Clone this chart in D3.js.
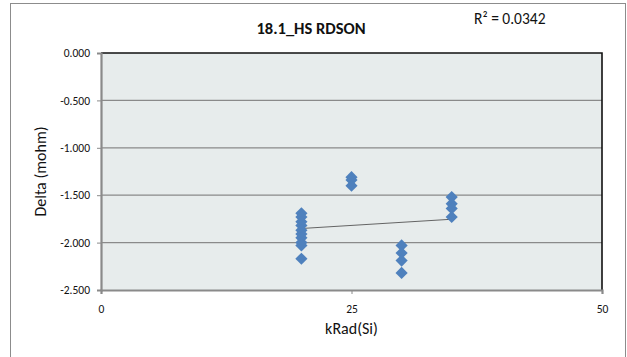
<!DOCTYPE html>
<html>
<head>
<meta charset="utf-8">
<script src="https://cdn.jsdelivr.net/npm/d3@7"></script>
<style>
  html, body { margin: 0; padding: 0; background: #fff; }
  svg { display: block; }
  text { font-family: Carlito, "Liberation Sans", Arial, sans-serif; fill: #111; }
</style>
</head>
<body>
<svg id="chart" width="627" height="357"></svg>
<script>
// Dose levels (kRad(Si)) and the measured delta for each part
const doseLevels = [20, 25, 30, 35];
const deltaAt20 = [-1.69, -1.73, -1.78, -1.82, -1.87, -1.91, -1.95, -2.00, -2.03, -2.17];
const deltaAt25 = [-1.31, -1.34, -1.40];
const deltaAt30 = [-2.03, -2.11, -2.19, -2.32];
const deltaAt35 = [-1.52, -1.59, -1.64, -1.73];
const xTicks = [0, 25, 50];
const yTicks = [0, -0.5, -1.0, -1.5, -2.0, -2.5];
const chartTitle = "18.1_HS RDSON";
const rSquaredLabel = "R² = 0.0342";

const groups = [deltaAt20, deltaAt25, deltaAt30, deltaAt35];
const points = [];
groups.forEach((vals, i) => vals.forEach(v => points.push({ x: doseLevels[i], y: v })));

const svg = d3.select("#chart");
const plot = { left: 101, right: 602, top: 53, bottom: 290 };
const fontStack = 'Carlito, "Liberation Sans", Arial, sans-serif';

const x = d3.scaleLinear().domain([0, 50]).range([plot.left, plot.right]);
const y = d3.scaleLinear().domain([-2.5, 0]).range([plot.bottom, plot.top]);

// Chart frame
svg.append("rect")
  .attr("x", 10.5).attr("y", 3.5).attr("width", 615).attr("height", 360)
  .attr("fill", "#fff").attr("stroke", "#8c8c8c").attr("stroke-width", 1);

// Plot area background
svg.append("rect")
  .attr("x", plot.left).attr("y", plot.top)
  .attr("width", plot.right - plot.left).attr("height", plot.bottom - plot.top)
  .attr("fill", "#e7ecec");

// Horizontal gridlines
svg.append("g")
  .selectAll("line")
  .data(yTicks.filter(t => t !== 0 && t !== -2.5))
  .join("line")
  .attr("x1", plot.left).attr("x2", plot.right)
  .attr("y1", d => y(d)).attr("y2", d => y(d))
  .attr("stroke", "#8a8a8a").attr("stroke-width", 1.3);

// Plot border: dark top and right edges
svg.append("path")
  .attr("d", `M${plot.left},${plot.top}H${plot.right}V${plot.bottom}`)
  .attr("fill", "none").attr("stroke", "#111").attr("stroke-width", 1.6);

// Y axis (hyphen as the minus sign)
const fmtY = d => d3.format(".3f")(d).replace("\u2212", "-");
const yAxis = d3.axisLeft(y).tickValues(yTicks).tickFormat(fmtY).tickSize(4).tickPadding(7);
const gy = svg.append("g").attr("transform", `translate(${plot.left},0)`).call(yAxis);
gy.select(".domain").attr("stroke", "#8a8a8a").attr("stroke-width", 2.2);
gy.selectAll(".tick line").attr("stroke", "#8a8a8a");
gy.selectAll(".tick text").attr("font-size", 11.5).attr("fill", "#111")
  .style("font-family", fontStack);

// X axis
const xAxis = d3.axisBottom(x).tickValues(xTicks).tickFormat(d3.format("d")).tickSize(4).tickPadding(11);
const gx = svg.append("g").attr("transform", `translate(0,${plot.bottom})`).call(xAxis);
gx.select(".domain").attr("stroke", "#8a8a8a").attr("stroke-width", 2.2);
gx.selectAll(".tick line").attr("stroke", "#8a8a8a");
gx.selectAll(".tick text").attr("font-size", 11.5).attr("fill", "#111")
  .style("font-family", fontStack);

// Least-squares trendline over the measured range
const mx = d3.mean(points, d => d.x), my = d3.mean(points, d => d.y);
const sxy = d3.sum(points, d => (d.x - mx) * (d.y - my));
const sxx = d3.sum(points, d => (d.x - mx) ** 2);
const slope = sxy / sxx, intercept = my - slope * mx;
const [xmin, xmax] = d3.extent(points, d => d.x);
svg.append("line")
  .attr("x1", x(xmin)).attr("y1", y(intercept + slope * xmin))
  .attr("x2", x(xmax)).attr("y2", y(intercept + slope * xmax))
  .attr("stroke", "#555").attr("stroke-width", 0.9);

// Diamond markers
const diamond = d3.symbol().type(d3.symbolSquare).size(74);
svg.append("g")
  .selectAll("path")
  .data(points)
  .join("path")
  .attr("d", diamond)
  .attr("transform", d => `translate(${x(d.x)},${y(d.y)}) rotate(45)`)
  .attr("fill", "#4f81bd");

// Titles
svg.append("text")
  .attr("x", 311).attr("y", 34).attr("text-anchor", "middle")
  .attr("font-size", 16.5).attr("font-weight", "bold")
  .text(chartTitle);

svg.append("text")
  .attr("x", 474).attr("y", 24)
  .attr("font-size", 15.5)
  .text(rSquaredLabel);

svg.append("text")
  .attr("x", x(25)).attr("y", 334).attr("text-anchor", "middle")
  .attr("font-size", 16)
  .text("kRad(Si)");

svg.append("text")
  .attr("transform", `translate(46,${(plot.top + plot.bottom) / 2}) rotate(-90)`)
  .attr("text-anchor", "middle")
  .attr("font-size", 16)
  .text("Delta (mohm)");
</script>
</body>
</html>
